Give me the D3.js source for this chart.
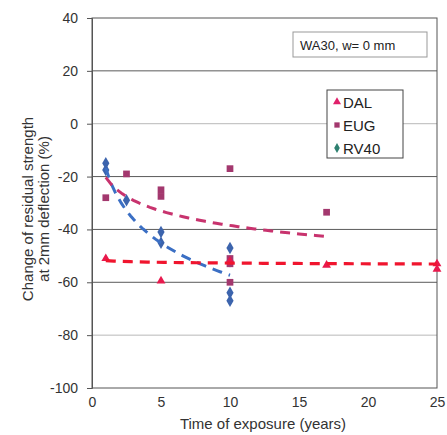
<!DOCTYPE html>
<html><head><meta charset="utf-8">
<script src="https://cdn.jsdelivr.net/npm/d3@7"></script>
<style>body{margin:0;background:#fff}svg{display:block}text{font-family:"Liberation Sans",Arial,sans-serif}</style>
</head><body><svg id="c" width="447" height="435"></svg>
<script>
const yTicks=[40,20,0,-20,-40,-60,-80,-100];
const xTicks=[0,5,10,15,20,25];
const seriesNames=["DAL","EUG","RV40"];
const dalT=[1,5,10,17,25,25];
const dalV=[-51,-59.5,-52,-53.5,-53,-55];
const eugT=[1,2.5,5,5,10,10,10,10,17];
const eugV=[-28,-19,-25,-27.5,-17,-51,-53,-60,-33.5];
const rvT=[1,1,2.5,5,5,10,10,10,10];
const rvV=[-15,-17.5,-29,-41,-45,-47,-52,-64,-67];
// logarithmic trend coefficients (v = a + b ln t)
const trendDAL=[-51.8,-0.4], trendEUG=[-20.3,-7.9], trendRV=[-16.8,-17.6];
const trendRangeDAL=[1,25], trendRangeEUG=[1,17], trendRangeRV=[1,10];

const svg=d3.select("#c");
const x=d3.scaleLinear().domain([0,25]).range([92,437]);
const y=d3.scaleLinear().domain([-100,40]).range([388,18]);

svg.append("g").selectAll("line").data(yTicks.filter(v=>v>-100&&v<40)).join("line")
 .attr("x1",x(0)).attr("x2",x(25)).attr("y1",d=>y(d)).attr("y2",d=>y(d))
 .attr("stroke",d=>(d===0||d===-80)?"#b8b8b8":"#5a5a5a").attr("stroke-width",1);
svg.append("rect").attr("x",x(0)).attr("y",y(40)).attr("width",x(25)-x(0)).attr("height",y(-100)-y(40))
 .attr("fill","none").attr("stroke","#555").attr("stroke-width",1);

const yAxis=svg.append("g").attr("transform",`translate(${x(0)},0)`)
 .call(d3.axisLeft(y).tickValues(yTicks).tickFormat(d=>String(d)).tickSize(5).tickPadding(9));
yAxis.select(".domain").attr("stroke","#555");
yAxis.selectAll(".tick line").attr("stroke","#555");
yAxis.selectAll("text").attr("font-size",14).attr("fill","#333").style("font-family","Liberation Sans,Arial,sans-serif");

const xAxis=svg.append("g").attr("transform",`translate(0,${y(-100)})`)
 .call(d3.axisBottom(x).tickValues(xTicks).tickFormat(d=>String(d)).tickSize(0).tickPadding(9));
xAxis.select(".domain").remove();
xAxis.selectAll("text").attr("font-size",14).attr("fill","#333").style("font-family","Liberation Sans,Arial,sans-serif");

svg.append("text").attr("transform","translate(33,209) rotate(-90)").attr("text-anchor","middle")
 .attr("font-size",15).attr("fill","#333").text("Change of residual strength");
svg.append("text").attr("transform","translate(49,209) rotate(-90)").attr("text-anchor","middle")
 .attr("font-size",15).attr("fill","#333").text("at 2mm deflection (%)");
svg.append("text").attr("x",263).attr("y",429).attr("text-anchor","middle")
 .attr("font-size",15).attr("fill","#333").text("Time of exposure (years)");

function trend(coef,range,color,w){
  const pts=d3.range(0,41).map(i=>{const t=range[0]+(range[1]-range[0])*i/40;return [t,coef[0]+coef[1]*Math.log(t)];});
  svg.append("path").attr("d",d3.line().x(d=>x(d[0])).y(d=>y(d[1]))(pts))
   .attr("fill","none").attr("stroke",color).attr("stroke-width",w).attr("stroke-dasharray","10,7");
}

const sym=(type,size)=>d3.symbol().type(type).size(size)();
function pts(T,V,type,size,color){
  svg.append("g").selectAll("path").data(T.map((t,i)=>[t,V[i]])).join("path")
   .attr("transform",d=>`translate(${x(d[0])},${y(d[1])})`).attr("d",sym(type,size)).attr("fill",color);
}
pts(rvT,rvV,d3.symbolDiamond,45,"#3c64ad");
pts(eugT,eugV,d3.symbolSquare,45,"#a3386e");
pts(dalT,dalV,d3.symbolTriangle,34,"#e8194d");
trend(trendRV,trendRangeRV,"#3b6fc4",3);
trend(trendEUG,trendRangeEUG,"#c8336e",3);
trend(trendDAL,trendRangeDAL,"#f0152e",3.2);

svg.append("rect").attr("x",293).attr("y",32).attr("width",134).attr("height",25).attr("fill","#fff").attr("stroke","#999");
svg.append("text").attr("x",300).attr("y",49.5).attr("font-size",13).attr("fill","#222").text("WA30, w= 0 mm");

svg.append("rect").attr("x",327).attr("y",90).attr("width",76).attr("height",68).attr("fill","#fff").attr("stroke","#444");
const legTypes=[d3.symbolTriangle,d3.symbolSquare,d3.symbolDiamond];
const legCols=["#e0206a","#a3386e","#2d8070"];
seriesNames.forEach((n,i)=>{
  const yy=102+i*23;
  svg.append("path").attr("transform",`translate(337,${yy})`).attr("d",sym(legTypes[i],28)).attr("fill",legCols[i]);
  svg.append("text").attr("x",343).attr("y",yy+5.5).attr("font-size",15).attr("fill","#222").text(n);
});
</script></body></html>
